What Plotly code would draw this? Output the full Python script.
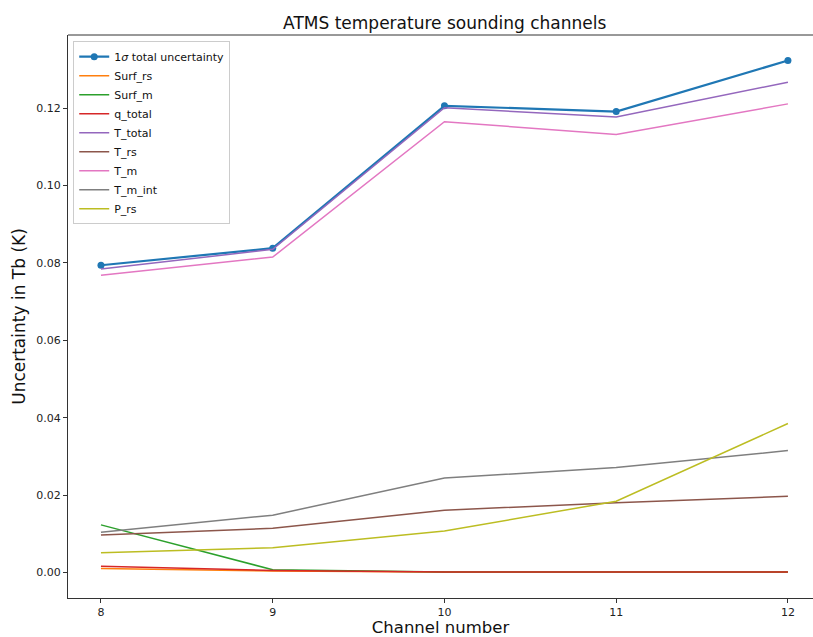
import plotly.graph_objects as go

channels = [8, 9, 10, 11, 12]
total = [0.0794, 0.0838, 0.1206, 0.1191, 0.1323]
surf_rs = [0.0010, 0.0004, 0.0001, 0.0001, 0.0001]
surf_m = [0.0123, 0.0007, 0.0001, 0.0001, 0.0001]
q_total = [0.0016, 0.0005, 0.0001, 0.0001, 0.0001]
t_total = [0.0784, 0.0835, 0.1201, 0.1177, 0.1267]
t_rs = [0.0097, 0.0114, 0.0161, 0.0180, 0.0197]
t_m = [0.0768, 0.0815, 0.1165, 0.1132, 0.1211]
t_m_int = [0.0104, 0.0148, 0.0244, 0.0271, 0.0315]
p_rs = [0.0051, 0.0064, 0.0107, 0.0184, 0.0385]

series = [
    ("Surf_rs", surf_rs, "#ff7f0e"),
    ("Surf_m", surf_m, "#2ca02c"),
    ("q_total", q_total, "#d62728"),
    ("T_total", t_total, "#9467bd"),
    ("T_rs", t_rs, "#8c564b"),
    ("T_m", t_m, "#e377c2"),
    ("T_m_int", t_m_int, "#7f7f7f"),
    ("P_rs", p_rs, "#bcbd22"),
]

fig = go.Figure()
fig.add_trace(go.Scatter(x=channels, y=total, mode="lines+markers",
                         name="1<i>σ</i> total uncertainty",
                         line=dict(color="#1f77b4", width=2.2),
                         marker=dict(size=7, color="#1f77b4")))
for name, vals, col in series:
    fig.add_trace(go.Scatter(x=channels, y=vals, mode="lines", name=name,
                             line=dict(color=col, width=1.5)))

axis_common = dict(showgrid=False, zeroline=False, showline=True, linecolor="#333",
                   linewidth=1, ticks="outside", ticklen=4, tickcolor="#333",
                   tickfont=dict(size=11, color="#222"))

fig.update_layout(
    width=813, height=637,
    margin=dict(l=68, r=0, t=35, b=39),
    plot_bgcolor="white", paper_bgcolor="white",
    font=dict(family="DejaVu Sans", color="#111"),
    title=dict(text="ATMS temperature sounding channels", x=0.547, xanchor="center",
               y=0.964, yanchor="middle", font=dict(size=17)),
    xaxis=dict(range=[7.808, 12.146], tickvals=channels, ticktext=[str(c) for c in channels],
               title=dict(text="Channel number", font=dict(size=16.5), standoff=7),
               mirror=False, **axis_common),
    yaxis=dict(range=[-0.0066, 0.1389], tickvals=[0, 0.02, 0.04, 0.06, 0.08, 0.10, 0.12],
               tickformat=".2f",
               title=dict(text="Uncertainty in Tb (K)", font=dict(size=17), standoff=6),
               **axis_common),
    showlegend=True,
    legend=dict(x=0.007, y=0.989, xanchor="left", yanchor="top",
                bordercolor="#ccc", borderwidth=1, bgcolor="white",
                font=dict(size=11), tracegroupgap=0, itemwidth=30),
)
fig.add_shape(type="line", xref="paper", yref="paper", x0=0, x1=1, y0=1, y1=1,
              line=dict(color="#333", width=1))

fig.write_html("out.html")
